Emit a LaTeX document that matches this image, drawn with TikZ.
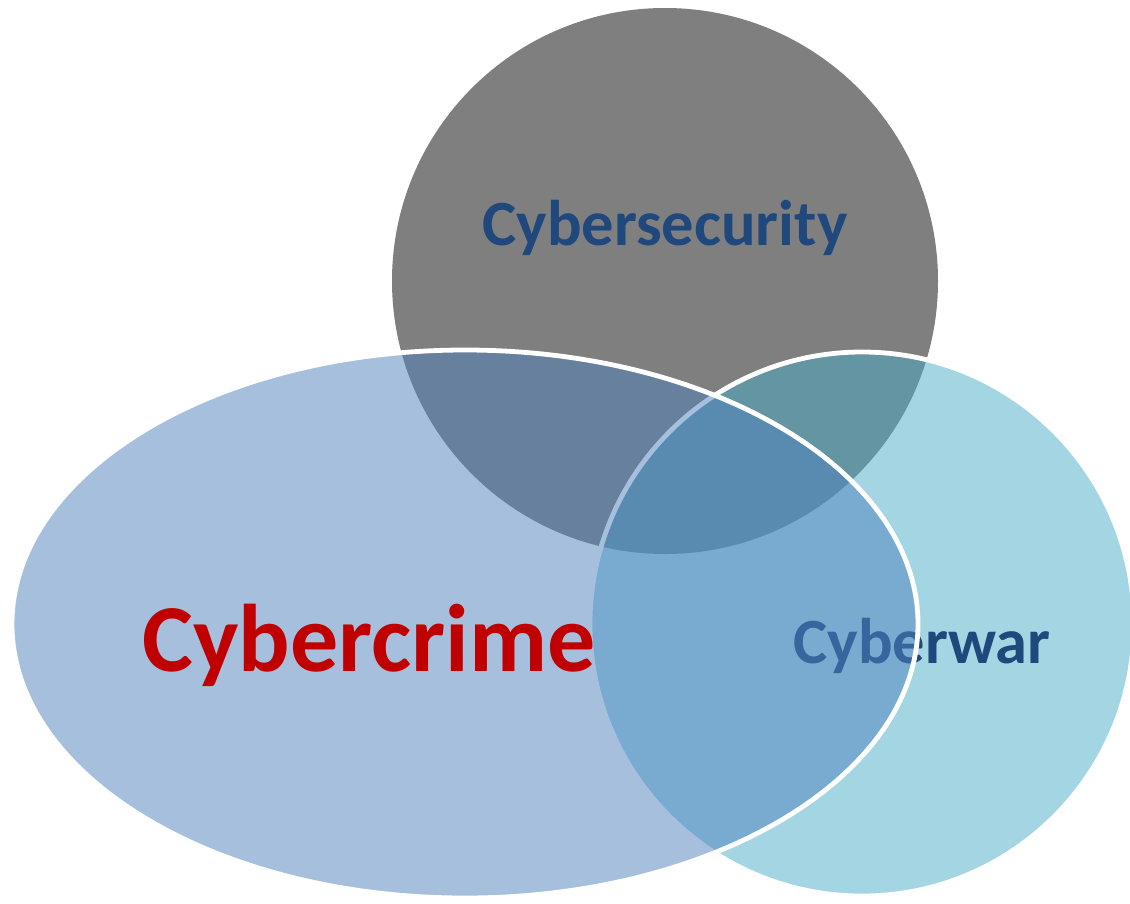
\documentclass[tikz,border=0pt]{standalone}
\usepackage{fontspec}
\setmainfont{Carlito}
\definecolor{secgray}{HTML}{7F7F7F}
\definecolor{crimeblue}{HTML}{4F81BD}
\definecolor{waraqua}{HTML}{4BACC6}
\definecolor{darkblue}{HTML}{1F497D}
\definecolor{crimered}{HTML}{C00000}
\tikzset{
  venn/.style={line width=4.8pt, draw=white, fill opacity=0.5},
  lbl/.style={inner sep=0pt, anchor=base, font=\bfseries}
}
\begin{document}
\begin{tikzpicture}[x=1pt,y=-1pt]
\useasboundingbox (0,0) rectangle (1130,903);
\clip (0,0) rectangle (1130,903);
\fill[white] (0,0) rectangle (1130,903);
% Cybersecurity circle
\fill[secgray] (665,281) circle[radius=273];
% Cyberwar circle
\path[venn, fill=waraqua] (862,624) circle[radius=272];
\node[lbl, text=darkblue, font=\fontsize{64.5}{64.5}\selectfont\bfseries] (war) at (922,663) {Cyberwar};
% Cybercrime ellipse
\path[venn, fill=crimeblue] (465,624) ellipse[x radius=453, y radius=274];
\node[lbl, text=crimered, font=\fontsize{96}{96}\selectfont\bfseries] (crime) at (369,671) {Cybercrime};
\node[lbl, text=darkblue, font=\fontsize{64.5}{64.5}\selectfont\bfseries] (sec) at (665,245) {Cybersecurity};
\end{tikzpicture}
\end{document}
